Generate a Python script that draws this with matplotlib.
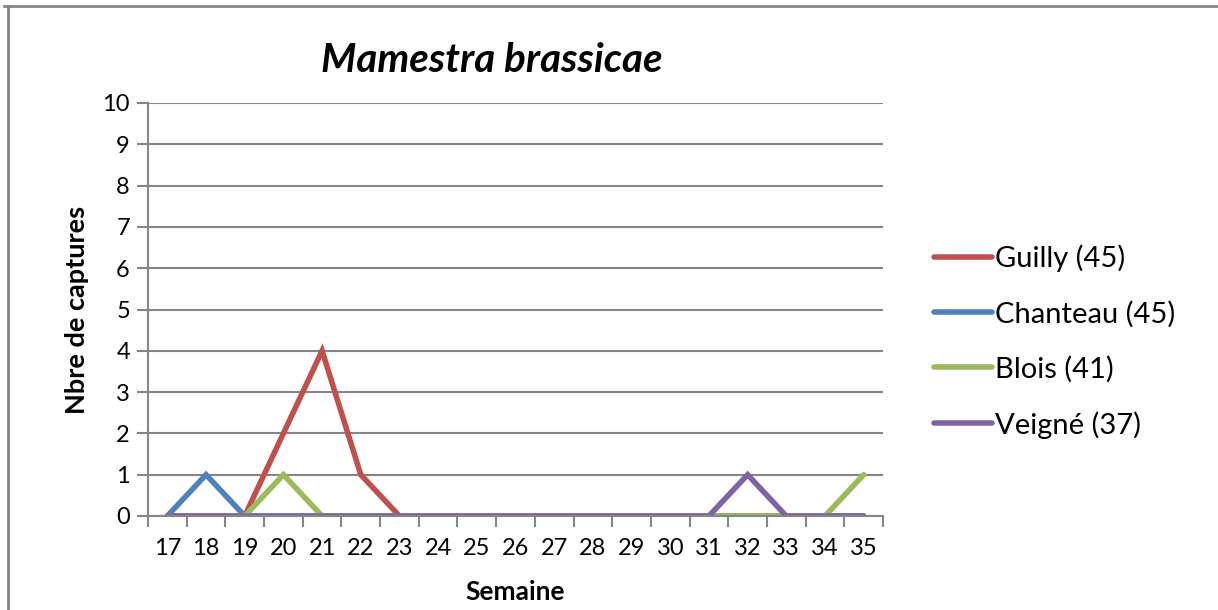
import numpy as np
import matplotlib.pyplot as plt
from matplotlib.lines import Line2D

plt.rcParams['font.family'] = ['Lato', 'DejaVu Sans']

semaines = list(range(17, 36))
guilly = [0, 0, 0, 2, 4, 1, 0, 0, 0, 0, 0, 0, 0, 0, 0, 0, 0, 0, 0]
chanteau = [0, 1, 0, 0, 0, 0, 0, 0, 0, 0, 0, 0, 0, 0, 0, 0, 0, 0, 0]
blois = [0, 0, 0, 1, 0, 0, 0, 0, 0, 0, 0, 0, 0, 0, 0, 0, 0, 0, 1]
veigne = [0, 0, 0, 0, 0, 0, 0, 0, 0, 0, 0, 0, 0, 0, 0, 1, 0, 0, 0]

series = [("Guilly (45)", guilly, '#C0504D'),
          ("Chanteau (45)", chanteau, '#4F81BD'),
          ("Blois (41)", blois, '#9BBB59'),
          ("Veigné (37)", veigne, '#8064A2')]

fig = plt.figure(figsize=(12.18, 6.10), dpi=100)
ax = fig.add_axes([148/1218, 1-516/610, (883-148)/1218, (516-103)/610])

x = np.arange(len(semaines))
handles = []
for name, vals, col in series:
    h, = ax.plot(x, vals, color=col, lw=4.0, solid_capstyle='round', solid_joinstyle='miter', label=name)
    handles.append(h)

ax.set_xlim(-0.5, len(semaines) - 0.5)
ax.set_ylim(0, 10)
ax.set_yticks(range(0, 11))
ax.yaxis.grid(True, color='#868686', lw=1.5)
ax.set_axisbelow(True)

ax.set_xticks(x)
ax.set_xticklabels([str(s) for s in semaines], fontsize=17)
ax.set_xticks(np.arange(-0.5, len(semaines)), minor=True)
ax.tick_params(axis='x', which='major', length=0, pad=16)
ax.tick_params(axis='x', which='minor', length=8, width=1.5, color='#868686')
ax.tick_params(axis='y', length=8, width=1.5, color='#868686', labelsize=17, pad=5)

for s in ['top', 'right']:
    ax.spines[s].set_visible(False)
for s in ['left', 'bottom']:
    ax.spines[s].set_color('#868686')
    ax.spines[s].set_linewidth(1.5)

ax.set_xlabel("Semaine", fontsize=19, fontweight='bold', labelpad=15)
ax.set_ylabel("Nbre de captures", fontsize=19.5, fontweight='bold', labelpad=10)
fig.text(492/1218, 1-60/610, "Mamestra brassicae", fontsize=29, fontweight='bold',
         style='italic', ha='center', va='center')

fig.legend(handles=handles, loc='upper left', bbox_to_anchor=(922/1218, 1-233/610),
           frameon=False, fontsize=21, handlelength=2.0, handletextpad=0.1,
           labelspacing=0.97, borderaxespad=0)

# chart border (top and left edges visible)
fig.add_artist(Line2D([4/1218, 1], [1-6/610, 1-6/610], color='#868686', lw=2))
fig.add_artist(Line2D([8/1218, 8/1218], [0, 1-6/610], color='#868686', lw=2))

fig.savefig("out.png", dpi=100)
